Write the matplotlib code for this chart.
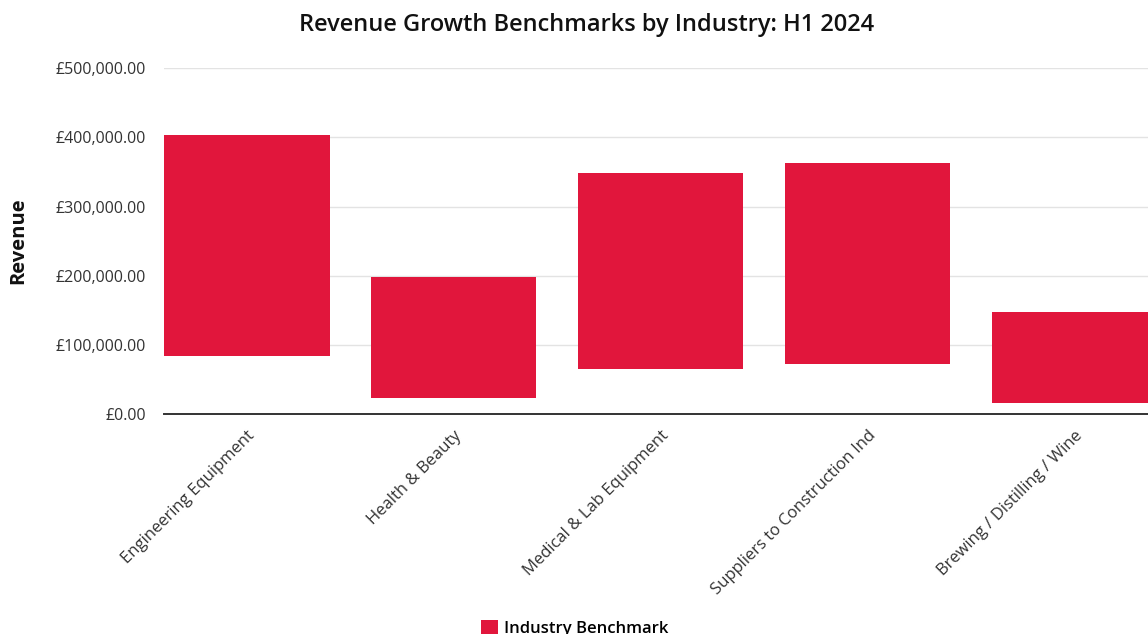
import matplotlib.pyplot as plt
from matplotlib.ticker import FuncFormatter

# benchmark ranges per industry (low / high revenue, GBP)
industrias = ['Engineering Equipment', 'Health & Beauty', 'Medical & Lab Equipment',
              'Suppliers to Construction Ind', 'Brewing / Distilling / Wine']
receita_min = [84000, 22700, 65600, 71900, 15900]
receita_max = [403800, 198700, 348300, 362800, 147100]

plt.rcParams['font.family'] = ['Open Sans', 'DejaVu Sans']

fig = plt.figure(figsize=(11.48, 6.34), dpi=100)
# eixo passa da borda direita, a ultima barra fica cortada
ax = fig.add_axes([164 / 1148, 220 / 634, 1014 / 1148, 345.7 / 634])

posicoes = range(len(industrias))
alturas = [hi - lo for lo, hi in zip(receita_min, receita_max)]
ax.bar(posicoes, alturas, bottom=receita_min, width=0.8, color='#E1163C',
       label='Industry Benchmark', zorder=3)

ax.set_xlim(-0.4, 4.5)
ax.set_ylim(0, 500000)
ax.set_yticks(range(0, 500001, 100000))
ax.yaxis.set_major_formatter(FuncFormatter(lambda v, p: f'£{v:,.2f}'))
ax.grid(axis='y', color='#e3e3e3', linewidth=1, zorder=0)

for lado in ['top', 'right', 'left']:
    ax.spines[lado].set_visible(False)
ax.spines['bottom'].set_color('#333333')
ax.spines['bottom'].set_linewidth(1.4)
ax.spines['bottom'].set_zorder(4)

ax.tick_params(axis='y', length=0, pad=13, labelsize=11.5, labelcolor='#333333')
ax.tick_params(axis='x', length=0, pad=10, labelsize=12, labelcolor='#333333')
ax.set_xticks(list(posicoes))
ax.set_xticklabels(industrias, rotation=45, ha='right', rotation_mode='anchor')

ax.set_ylabel('Revenue', fontsize=14.5, fontweight='bold', labelpad=20, color='#111111')
fig.suptitle('Revenue Growth Benchmarks by Industry: H1 2024', x=587 / 1148,
             y=1 - 25 / 634, va='center', fontsize=17, fontweight='semibold',
             color='#111111')

# legenda fica colada na borda de baixo
fig.legend(loc='upper left', bbox_to_anchor=(466 / 1148, 1 - 605 / 634), frameon=False,
           handlelength=1.0, handleheight=1.0, handletextpad=0.4,
           prop={'weight': 'semibold', 'size': 12})

plt.savefig('out.png', dpi=100)
